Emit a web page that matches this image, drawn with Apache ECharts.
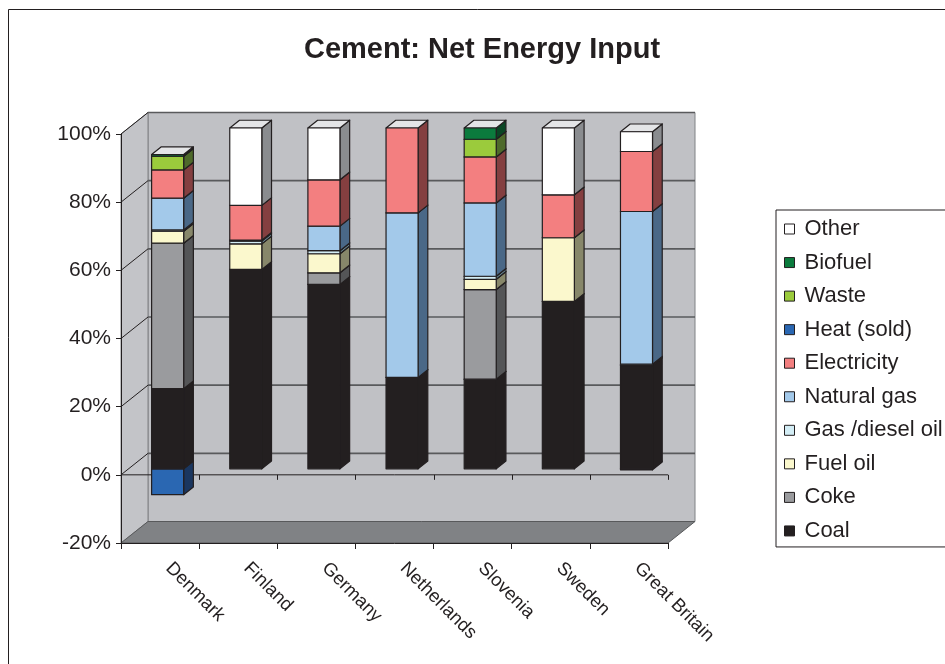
<!DOCTYPE html>
<html>
<head>
<meta charset="utf-8">
<title>Cement: Net Energy Input</title>
<script src="https://cdn.jsdelivr.net/npm/echarts@6/dist/echarts.min.js"></script>
<style>
  html, body { margin: 0; padding: 0; background: #ffffff; }
  #chart { width: 945px; height: 664px; }
</style>
</head>
<body>
<div id="chart"></div>
<script>
// Share of net energy input to cement production, per country (%)
const categories = ['Denmark', 'Finland', 'Germany', 'Netherlands', 'Slovenia', 'Sweden', 'Great Britain'];
const coal        = [23.5, 58.5, 54.1, 26.8, 26.3, 49.1, 30.3];
const coke        = [42.7, 0, 3.4, 0, 26.3, 0, 0.4];
const fuelOil     = [3.5, 7.5, 5.6, 0, 3.0, 18.7, 0];
const gasDiesel   = [0.4, 0.8, 0.9, 0, 0.9, 0, 0];
const naturalGas  = [9.3, 0.3, 7.2, 48.3, 21.5, 0, 44.8];
const electricity = [8.3, 10.2, 13.6, 24.9, 13.5, 12.6, 17.6];
const heatSold    = [-7.6, 0, 0, 0, 0, 0, -0.3];
const waste       = [4.0, 0, 0, 0, 5.2, 0, 0];
const biofuel     = [0.5, 0, 0, 0, 3.3, 0, 0];
const other       = [0, 22.7, 15.2, 0, 0, 19.6, 5.8];

const yTicks = [-20, 0, 20, 40, 60, 80, 100];

// Stacking order, bottom to top: name, values, face colour, side colour
const energySeries = [
  ['Coal', coal, '#231f20', '#231f20'],
  ['Coke', coke, '#9a9b9e', '#545557'],
  ['Fuel oil', fuelOil, '#fbf8cd', '#87876a'],
  ['Gas /diesel oil', gasDiesel, '#d3edf5', '#6c8c98'],
  ['Natural gas', naturalGas, '#a3c9ea', '#4a6887'],
  ['Electricity', electricity, '#f37f80', '#843f40'],
  ['Heat (sold)', heatSold, '#2a67b2', '#1a365f'],
  ['Waste', waste, '#9bcb3c', '#4e6a2b'],
  ['Biofuel', biofuel, '#0b7b3d', '#0a4624'],
  ['Other', other, '#ffffff', '#8a8c8f']
];

// Pseudo-3D look: depth of the plot box and position of the columns inside it
const DEPTH = [27, -21.5];
const FRONT = 0.28, BACK = 0.64;
const BAR_RATIO = 0.41;
const EDGE = '#231f20';
const TOP_FACE = '#e4e5e7';

const chart = echarts.init(document.getElementById('chart'), null, { renderer: 'canvas' });

function renderWalls(params, api) {
  const cs = params.coordSys;
  const x0 = cs.x, x1 = cs.x + cs.width;
  const yTop = api.coord([0, yTicks[yTicks.length - 1]])[1];
  const yBot = api.coord([0, yTicks[0]])[1];
  const yZero = api.coord([0, 0])[1];
  const dx = DEPTH[0], dy = DEPTH[1];
  const kids = [];
  kids.push({ type: 'rect', shape: { x: x0 + dx, y: yTop + dy, width: cs.width, height: yBot - yTop },
    style: { fill: '#c0c1c5', stroke: '#808285', lineWidth: 1 } });
  kids.push({ type: 'polygon', shape: { points: [[x0, yTop], [x0 + dx, yTop + dy], [x0 + dx, yBot + dy], [x0, yBot]] },
    style: { fill: '#c3c4c8', stroke: '#808285', lineWidth: 1 } });
  kids.push({ type: 'polygon', shape: { points: [[x0, yBot], [x1, yBot], [x1 + dx, yBot + dy], [x0 + dx, yBot + dy]] },
    style: { fill: '#808285', stroke: '#58595b', lineWidth: 1 } });
  yTicks.forEach(function (v) {
    if (v === yTicks[0]) return;
    const y = api.coord([0, v])[1];
    kids.push({ type: 'line', shape: { x1: x0 + dx, y1: y + dy, x2: x1 + dx, y2: y + dy },
      style: { stroke: '#595a5c', lineWidth: 1.6 } });
    kids.push({ type: 'line', shape: { x1: x0, y1: y, x2: x0 + dx, y2: y + dy },
      style: { stroke: '#231f20', lineWidth: 1 } });
  });
  kids.push({ type: 'line', shape: { x1: x0, y1: yZero, x2: x1, y2: yZero }, style: { stroke: '#231f20', lineWidth: 1 } });
  const step = cs.width / categories.length;
  for (let k = 1; k <= categories.length; k++) {
    const x = Math.round(x0 + k * step) + 0.5;
    kids.push({ type: 'line', shape: { x1: x, y1: yZero, x2: x, y2: yZero + 5 }, style: { stroke: '#231f20', lineWidth: 1 } });
  }
  return { type: 'group', children: kids };
}

function makeBoxRenderer(face, side) {
  return function (params, api) {
    const cat = api.value(0), lo = api.value(1), hi = api.value(2);
    const p0 = api.coord([cat, lo]), p1 = api.coord([cat, hi]);
    const bw = api.size([1, 0])[0] * BAR_RATIO;
    const fx = DEPTH[0] * FRONT, fy = DEPTH[1] * FRONT;
    const ddx = DEPTH[0] * (BACK - FRONT), ddy = DEPTH[1] * (BACK - FRONT);
    const xl = p0[0] + fx - bw / 2, xr = xl + bw;
    const yb = Math.max(p0[1], p1[1]) + fy, yt = Math.min(p0[1], p1[1]) + fy;
    const line = { stroke: EDGE, lineWidth: 1.2, lineJoin: 'round' };
    const kids = [
      { type: 'polygon', shape: { points: [[xr, yt], [xr + ddx, yt + ddy], [xr + ddx, yb + ddy], [xr, yb]] },
        style: Object.assign({ fill: side }, line) }
    ];
    // boxes hanging below zero sit under the positive stack, so their lid stays hidden
    if (lo >= 0) {
      kids.push({ type: 'polygon', shape: { points: [[xl, yt], [xr, yt], [xr + ddx, yt + ddy], [xl + ddx, yt + ddy]] },
        style: Object.assign({ fill: TOP_FACE }, line) });
    }
    kids.push({ type: 'rect', shape: { x: xl, y: yt, width: bw, height: yb - yt },
      style: Object.assign({ fill: face }, line) });
    return { type: 'group', children: kids };
  };
}

// Running stack bases (positive upwards, negative downwards)
const posBase = categories.map(function () { return 0; });
const negBase = categories.map(function () { return 0; });

const boxSeries = energySeries.map(function (s) {
  const data = [];
  s[1].forEach(function (v, i) {
    if (!v) return;
    if (v > 0) { data.push([i, posBase[i], posBase[i] + v]); posBase[i] += v; }
    else { data.push([i, negBase[i] + v, negBase[i]]); negBase[i] += v; }
  });
  return {
    name: s[0],
    type: 'custom',
    z: s[1].some(function (v) { return v < 0; }) ? 2 : 3,
    coordinateSystem: 'cartesian2d',
    renderItem: makeBoxRenderer(s[2], s[3]),
    encode: { x: 0, y: [1, 2] },
    itemStyle: { color: s[2], borderColor: EDGE, borderWidth: 1 },
    data: data
  };
});

const FONT = '"Liberation Sans", Arial, Helvetica, sans-serif';

chart.setOption({
  animation: false,
  backgroundColor: '#ffffff',
  textStyle: { fontFamily: FONT, color: '#231f20' },
  title: {
    text: 'Cement: Net Energy Input',
    left: 477,
    textAlign: 'center',
    top: 30,
    textStyle: { fontFamily: FONT, fontSize: 29, fontWeight: 'bold', color: '#231f20' }
  },
  graphic: [{
    type: 'rect', z: -10, silent: true,
    shape: { x: 8.5, y: 9.5, width: 1000, height: 700 },
    style: { fill: 'none', stroke: '#231f20', lineWidth: 1 }
  }],
  legend: {
    orient: 'vertical',
    left: 776,
    top: 210,
    padding: [7, 8, 4, 8],
    itemGap: 9.55,
    itemWidth: 10,
    itemHeight: 10,
    borderColor: '#231f20',
    borderWidth: 1,
    backgroundColor: '#ffffff',
    icon: 'rect',
    itemStyle: { borderColor: '#231f20', borderWidth: 1 },
    textStyle: { fontFamily: FONT, fontSize: 22, lineHeight: 24, color: '#231f20', padding: [0, 0, 0, 5] },
    data: energySeries.map(function (s) { return s[0]; }).reverse()
  },
  grid: { left: 121, top: 134, width: 547, height: 409 },
  xAxis: {
    type: 'category',
    data: categories,
    boundaryGap: true,
    axisLine: { onZero: false, lineStyle: { color: '#231f20', width: 1 } },
    axisTick: { show: true, length: 6, lineStyle: { color: '#231f20' } },
    axisLabel: { rotate: -45, margin: 14, padding: [0, 0, 0, 12], fontSize: 18.5, fontFamily: FONT, color: '#231f20', interval: 0 },
    splitLine: { show: false }
  },
  yAxis: {
    type: 'value',
    min: yTicks[0],
    max: yTicks[yTicks.length - 1],
    interval: 20,
    axisLine: { show: true, lineStyle: { color: '#231f20', width: 1 } },
    axisTick: { show: true, length: 5, lineStyle: { color: '#231f20' } },
    axisLabel: { formatter: '{value}%', fontSize: 21, margin: 10, fontFamily: FONT, color: '#231f20' },
    splitLine: { show: false }
  },
  series: [{
    type: 'custom',
    name: 'walls',
    silent: true,
    z: -1,
    coordinateSystem: 'cartesian2d',
    renderItem: renderWalls,
    encode: { x: 0, y: 1 },
    data: [[0, 0]]
  }].concat(boxSeries)
});
</script>
</body>
</html>
